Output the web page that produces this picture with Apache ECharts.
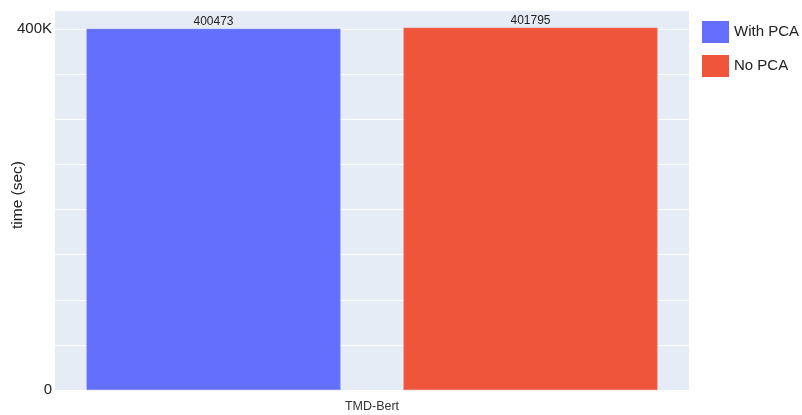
<!DOCTYPE html>
<html>
<head>
<meta charset="utf-8">
<script src="https://cdn.jsdelivr.net/npm/echarts@6/dist/echarts.min.js"></script>
<style>
  html, body { margin: 0; padding: 0; background: #fff; }
  #chart { width: 802px; height: 415px; }
</style>
</head>
<body>
<div id="chart"></div>
<script>
var categories = ["TMD-Bert"];
var withPca = [400473];
var noPca = [401795];
var seriesNames = ["With PCA", "No PCA"];

var myChart = echarts.init(document.getElementById("chart"));

var option = {
  animation: false,
  textStyle: { fontFamily: "Liberation Sans, Arial, sans-serif" },
  grid: {
    left: 55, right: 113, top: 10, bottom: 25,
    containLabel: false,
    outerBoundsMode: "none",
    backgroundColor: "#E5ECF6", show: true, borderWidth: 0
  },
  legend: {
    orient: "vertical",
    left: 697,
    top: 16,
    itemWidth: 27,
    itemHeight: 22,
    itemGap: 12,
    icon: "rect",
    itemStyle: { borderWidth: 0 },
    textStyle: { fontSize: 15, color: "#222" },
    data: seriesNames
  },
  xAxis: {
    type: "category",
    data: categories,
    axisLine: { show: false },
    axisTick: { show: false },
    axisLabel: { fontSize: 12.5, color: "#333", margin: 10 }
  },
  yAxis: {
    type: "value",
    min: 0,
    max: 421400,
    interval: 50000,
    name: "time (sec)",
    nameLocation: "middle",
    nameGap: 29,
    nameMoveOverlap: false,
    nameTextStyle: { fontSize: 15.5, color: "#222", padding: [0, 0, 0, 10] },
    axisLine: { show: false },
    axisTick: { show: false },
    axisLabel: {
      fontSize: 15,
      color: "#222",
      margin: 3,
      showMaxLabel: false,
      formatter: function (v) {
        if (v === 0) return "0";
        if (v === 400000) return "400K";
        return "";
      }
    },
    splitLine: { lineStyle: { color: "#fff", width: 1 } }
  },
  series: [
    {
      name: seriesNames[0],
      type: "bar",
      data: withPca,
      barWidth: 254,
      barGap: "24.8%",
      itemStyle: { color: "#636EFA", borderColor: "#8a92fb", borderWidth: 0.5 },
      label: { show: true, position: "top", distance: 1, fontSize: 12, color: "#222" }
    },
    {
      name: seriesNames[1],
      type: "bar",
      data: noPca,
      barWidth: 254,
      itemStyle: { color: "#EF553B", borderColor: "#f37a66", borderWidth: 0.5 },
      label: { show: true, position: "top", distance: 1, fontSize: 12, color: "#222" }
    }
  ]
};

option && myChart.setOption(option);
</script>
</body>
</html>
